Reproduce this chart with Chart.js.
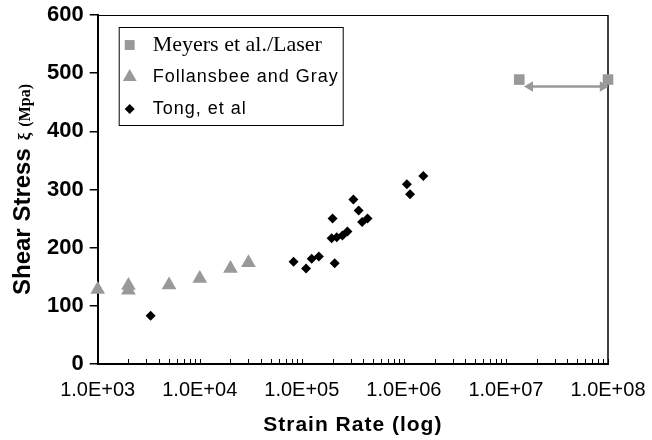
<!DOCTYPE html>
<html>
<head>
<meta charset="utf-8">
<script src="https://cdn.jsdelivr.net/npm/chart.js@4.4.1/dist/chart.umd.min.js"></script>
<style>
  html, body { margin: 0; padding: 0; background: #fff; }
  #wrap { width: 652px; height: 440px; }
</style>
</head>
<body>
<div id="wrap"><canvas id="chart"></canvas></div>
<script>
// strain rate (1/s) and shear stress (MPa) for each source
const meyersRate = [1.35e7, 1e8];
const meyersStress = [489, 489];

const follansbeeRate = [1e3, 2e3, 2e3, 5e3, 1e4, 2e4, 3e4];
const follansbeeStress = [128, 127, 135, 136, 147, 164, 174];

const tongRate = [3.3e3, 8.3e4, 1.1e5, 1.25e5, 1.47e5, 2.1e5, 1.96e5, 2.0e5, 2.2e5, 2.5e5, 2.8e5, 3.2e5, 3.6e5, 3.9e5, 4.4e5, 1.07e6, 1.15e6, 1.55e6];
const tongStress = [83, 176, 164, 181, 185, 173, 216, 250, 218, 221, 228, 283, 264, 244, 250, 309, 292, 323];

// range of the laser data, shown as a double arrow
const arrowRate = [1.72e7, 8.9e7];
const arrowStress = [477, 477];

const xMajorTicks = [1e3, 1e4, 1e5, 1e6, 1e7, 1e8];
const xTickLabels = ["1.0E+03", "1.0E+04", "1.0E+05", "1.0E+06", "1.0E+07", "1.0E+08"];
const yMin = 0;
const yMax = 600;
const yStep = 100;

const SANS = "'Liberation Sans', Arial, sans-serif";
const SERIF = "'Liberation Serif', 'Times New Roman', serif";

const legendItems = [
  { text: "Meyers et al./Laser", style: "rect", radius: 7, color: "#999", font: "22px " + SERIF, spacing: "0px" },
  { text: "Follansbee and Gray", style: "triangle", radius: 8, color: "#999", font: "18px " + SANS, spacing: "1px" },
  { text: "Tong, et al", style: "rectRot", radius: 5, color: "#000", font: "18px " + SANS, spacing: "1px" },
];

const toPoints = (xs, ys) => xs.map((x, i) => ({ x, y: ys[i] }));

// draw a run of text pieces with their own font, spacing and x-scale
function drawPieces(ctx, pieces, cx, cy) {
  let total = 0;
  pieces.forEach((p) => {
    ctx.font = p.font;
    ctx.letterSpacing = p.spacing || "0px";
    p.width = ctx.measureText(p.text).width * (p.scaleX || 1);
    total += p.width + (p.gap || 0);
  });
  let x = cx - total / 2;
  pieces.forEach((p) => {
    ctx.font = p.font;
    ctx.letterSpacing = p.spacing || "0px";
    ctx.save();
    ctx.translate(x, cy);
    ctx.scale(p.scaleX || 1, 1);
    ctx.fillText(p.text, 0, 0);
    ctx.restore();
    x += p.width + (p.gap || 0);
  });
}

// black frame on top/right, inward minor ticks on the log axis
const framePlugin = {
  id: "frame",
  beforeDatasetsDraw(chart) {
    const { ctx, chartArea } = chart;
    const xScale = chart.scales.x;
    ctx.save();
    ctx.strokeStyle = "#000";
    ctx.lineWidth = 1;
    ctx.beginPath();
    ctx.moveTo(chartArea.left, chartArea.top + 0.5);
    ctx.lineTo(chartArea.right, chartArea.top + 0.5);
    ctx.stroke();
    ctx.lineWidth = 1.5;
    ctx.beginPath();
    ctx.moveTo(chartArea.right, chartArea.top);
    ctx.lineTo(chartArea.right, chartArea.bottom);
    ctx.stroke();
    ctx.lineWidth = 1;
    xScale.ticks.forEach((tick) => {
      const px = Math.round(xScale.getPixelForValue(tick.value)) + 0.5;
      ctx.beginPath();
      ctx.moveTo(px, chartArea.bottom);
      ctx.lineTo(px, chartArea.bottom - 5);
      ctx.stroke();
    });
    ctx.restore();
  },
};

// axis titles: the y title mixes a sans and a serif face
const titlesPlugin = {
  id: "axisTitles",
  afterDraw(chart) {
    const { ctx, chartArea } = chart;
    ctx.save();
    ctx.fillStyle = "#000";
    ctx.textAlign = "left";
    ctx.textBaseline = "middle";
    drawPieces(ctx, [
      { text: "Strain Rate (log)", font: "bold 21px " + SANS, spacing: "1px" },
    ], (chartArea.left + chartArea.right) / 2, chartArea.bottom + 61);

    ctx.textBaseline = "alphabetic";
    ctx.translate(30, (chartArea.top + chartArea.bottom) / 2);
    ctx.rotate(-Math.PI / 2);
    drawPieces(ctx, [
      { text: "Shear Stress", font: "bold 24px " + SANS, gap: 8 },
      { text: "ξ", font: "bold 17px " + SERIF, gap: 6 },
      { text: "(Mpa)", font: "bold 16px " + SERIF },
    ], 0, 0);
    ctx.restore();
  },
};

// boxed legend inside the plot
const legendPlugin = {
  id: "boxLegend",
  afterDraw(chart) {
    const { ctx, chartArea } = chart;
    const left = chartArea.left + 21;
    const top = chartArea.top + 12;
    const width = 224;
    const height = 98;
    ctx.save();
    ctx.fillStyle = "#fff";
    ctx.fillRect(left, top, width, height);
    ctx.strokeStyle = "#000";
    ctx.lineWidth = 1;
    ctx.strokeRect(left + 0.5, top + 0.5, width, height);
    legendItems.forEach((item, i) => {
      const cy = top + 18 + i * 32;
      ctx.fillStyle = item.color;
      ctx.strokeStyle = item.color;
      Chart.helpers.drawPoint(ctx, { pointStyle: item.style, radius: item.radius, borderWidth: 0 }, left + 11, cy);
      ctx.fillStyle = "#000";
      ctx.font = item.font;
      ctx.letterSpacing = item.spacing;
      ctx.textBaseline = "middle";
      ctx.fillText(item.text, left + 34, cy);
    });
    ctx.restore();
  },
};

new Chart(document.getElementById("chart"), {
  type: "scatter",
  data: {
    datasets: [
      {
        label: "Meyers et al./Laser",
        data: toPoints(meyersRate, meyersStress),
        pointStyle: "rect",
        pointRadius: 7.5,
        backgroundColor: "#999",
        borderColor: "#999",
        borderWidth: 0,
        clip: false,
      },
      {
        label: "Follansbee and Gray",
        data: toPoints(follansbeeRate, follansbeeStress),
        pointStyle: "triangle",
        pointRadius: 8.5,
        backgroundColor: "#999",
        borderColor: "#999",
        borderWidth: 0,
        clip: false,
      },
      {
        label: "Tong, et al",
        data: toPoints(tongRate, tongStress),
        pointStyle: "rectRot",
        pointRadius: 5,
        backgroundColor: "#000",
        borderColor: "#000",
        borderWidth: 0,
        clip: false,
      },
      {
        label: "range",
        type: "line",
        data: toPoints(arrowRate, arrowStress),
        showLine: true,
        borderColor: "#999",
        borderWidth: 2.5,
        backgroundColor: "#999",
        pointStyle: "triangle",
        pointRadius: 6,
        pointRotation: [-90, 90],
        pointBorderWidth: 0,
      },
    ],
  },
  options: {
    responsive: true,
    maintainAspectRatio: false,
    animation: false,
    events: [],
    layout: { padding: { left: 41, right: 3, top: 15, bottom: 24 } },
    plugins: {
      legend: { display: false },
      tooltip: { enabled: false },
    },
    scales: {
      x: {
        type: "logarithmic",
        min: xMajorTicks[0],
        max: xMajorTicks[xMajorTicks.length - 1],
        afterBuildTicks(scale) {
          const ticks = [];
          xMajorTicks.forEach((major, i) => {
            ticks.push({ value: major });
            if (i < xMajorTicks.length - 1) {
              for (let k = 2; k <= 9; k++) ticks.push({ value: major * k });
            }
          });
          scale.ticks = ticks;
        },
        afterFit(scale) {
          scale.paddingRight = 44;
        },
        ticks: {
          autoSkip: false,
          maxRotation: 0,
          minRotation: 0,
          padding: 14,
          color: "#000",
          font: { family: SANS, size: 20 },
          callback: (value) => {
            const i = xMajorTicks.indexOf(value);
            return i >= 0 ? xTickLabels[i] : "";
          },
        },
        grid: { display: false, drawTicks: false },
        border: { display: true, color: "#000", width: 2 },
      },
      y: {
        min: yMin,
        max: yMax,
        afterFit(scale) {
          scale.paddingTop = 0;
        },
        ticks: {
          stepSize: yStep,
          padding: 6,
          color: "#000",
          font: { family: SANS, size: 22, weight: "bold" },
        },
        grid: { drawOnChartArea: false, drawTicks: true, tickLength: 8, color: "#000", lineWidth: 1.5 },
        border: { display: true, color: "#000", width: 2 },
      },
    },
  },
  plugins: [framePlugin, titlesPlugin, legendPlugin],
});
</script>
</body>
</html>
